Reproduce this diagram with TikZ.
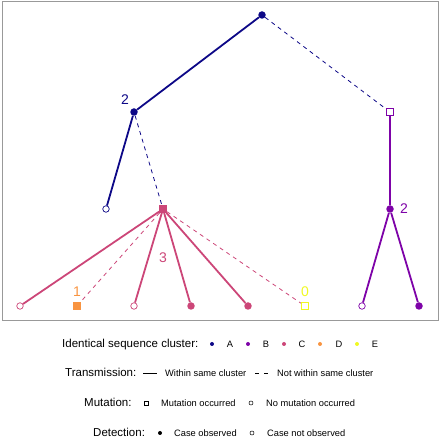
\documentclass[tikz,border=0pt]{standalone}
\usepackage{fontspec}
\setmainfont{Liberation Sans}
\definecolor{clA}{HTML}{0D0887}
\definecolor{clB}{HTML}{7E03A8}
\definecolor{clC}{HTML}{CC4678}
\definecolor{clD}{HTML}{F89441}
\definecolor{clE}{HTML}{F0F921}
\begin{document}
\begin{tikzpicture}[x=1pt,y=-1pt,
    seen/.style={circle,fill=#1,inner sep=0pt,minimum size=7.5pt},
    unseen/.style={circle,draw=#1,fill=white,inner sep=0pt,minimum size=6.5pt,line width=0.7pt},
    seenmut/.style={rectangle,fill=#1,inner sep=0pt,minimum size=7.5pt},
    unseenmut/.style={rectangle,draw=#1,fill=white,inner sep=0pt,minimum size=7.5pt,line width=0.7pt},
    within/.style={line width=1.8pt},
    across/.style={line width=0.8pt,dash pattern=on 4pt off 4pt},
    count/.style={inner sep=0pt,font=\fontsize{14}{14}\selectfont},
    keytitle/.style={anchor=base west,inner sep=0pt,font=\fontsize{11.5}{12}\selectfont},
    keytext/.style={anchor=base west,inner sep=0pt,font=\fontsize{9.3}{10}\selectfont},
    keyletter/.style={anchor=base,inner sep=0pt,font=\fontsize{9.3}{10}\selectfont}]
  \useasboundingbox (0,0) rectangle (440,438);
  \draw[black!40,line width=0.8pt] (2,1) rectangle (438,320);
  % tree
  \draw
    (262,15) node[seen=clA] (0){}
    (134,112) node[seen=clA] (1){}
    (390,112) node[unseenmut=clB] (2){}
    (106,209) node[unseen=clA] (3){}
    (163,209) node[seenmut=clC] (4){}
    (390,209) node[seen=clB] (5){}
    (20,306) node[unseen=clC] (6){}
    (77,306) node[seenmut=clD] (7){}
    (134,306) node[unseen=clC] (8){}
    (191,306) node[seen=clC] (9){}
    (248,306) node[seen=clC] (10){}
    (305,306) node[unseenmut=clE] (11){}
    (362,306) node[unseen=clB] (12){}
    (419,306) node[seen=clB] (13){};
  \begin{scope}[-]
    \draw[within,clA] (0) to (1);
    \draw[across,clA] (0) to (2);
    \draw[within,clA] (1) to (3);
    \draw[across,clA] (1) to (4);
    \draw[within,clB] (2) to (5);
    \draw[within,clB] (5) to (12);
    \draw[within,clB] (5) to (13);
    \draw[within,clC] (4) to (6);
    \draw[across,clC] (4) to (7);
    \draw[within,clC] (4) to (8);
    \draw[within,clC] (4) to (9);
    \draw[within,clC] (4) to (10);
    \draw[across,clC] (4) to (11);
  \end{scope}
  \node[count,clA] (c1) at (125,100) {2};
  \node[count,clB] (c5) at (404,209) {2};
  \node[count,clC] (c4) at (163,258) {3};
  \node[count,clD] (c7) at (77,292) {1};
  \node[count,clE] (c11) at (305,292) {0};
  % legend
  \node[keytitle] (kc) at (62,348) {Identical sequence cluster:};
  \node[circle,fill=clA,inner sep=0pt,minimum size=4pt] (kA) at (212,344) {};
  \node[keyletter] (lA) at (230,347.4) {A};
  \node[circle,fill=clB,inner sep=0pt,minimum size=4pt] (kB) at (248,344) {};
  \node[keyletter] (lB) at (266,347.4) {B};
  \node[circle,fill=clC,inner sep=0pt,minimum size=4pt] (kC) at (284,344) {};
  \node[keyletter] (lC) at (302,347.4) {C};
  \node[circle,fill=clD,inner sep=0pt,minimum size=4pt] (kD) at (320,344) {};
  \node[keyletter] (lD) at (339,347.4) {D};
  \node[circle,fill=clE,inner sep=0pt,minimum size=4pt] (kE) at (357,344) {};
  \node[keyletter] (lE) at (375,347.4) {E};
  \node[keytitle] (kt) at (65,377) {Transmission:};
  \coordinate (w1) at (143,373);
  \coordinate (w2) at (157,373);
  \draw[line width=0.9pt] (w1) -- (w2);
  \node[keytext] (kw) at (165,376.4) {Within same cluster};
  \coordinate (n1) at (255,373);
  \coordinate (n2) at (268,373);
  \draw[line width=0.9pt,dash pattern=on 4pt off 5pt] (n1) -- (n2);
  \node[keytext] (kn) at (277,376.4) {Not within same cluster};
  \node[keytitle] (km) at (84,407) {Mutation:};
  \node[rectangle,draw,inner sep=0pt,minimum size=4pt,line width=0.5pt] (ks) at (146,403) {};
  \node[keytext] (kmo) at (161,406.4) {Mutation occurred};
  \node[circle,draw,inner sep=0pt,minimum size=4pt,line width=0.5pt] (ko) at (251,403) {};
  \node[keytext] (knm) at (266,406.4) {No mutation occurred};
  \node[keytitle] (kd) at (93,437) {Detection:};
  \node[circle,fill,inner sep=0pt,minimum size=4pt] (kf) at (160,433) {};
  \node[keytext] (kco) at (174,436.4) {Case observed};
  \node[circle,draw,inner sep=0pt,minimum size=4pt,line width=0.5pt] (ke) at (252,433) {};
  \node[keytext] (kcn) at (267,436.4) {Case not observed};
\end{tikzpicture}
\end{document}
